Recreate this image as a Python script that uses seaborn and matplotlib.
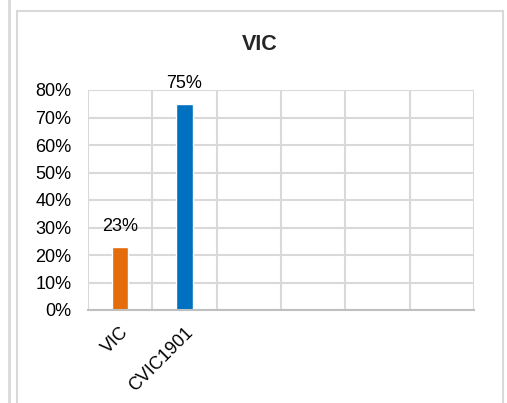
import numpy as np
import seaborn as sns
import pandas as pd
from matplotlib import pyplot as plt
from matplotlib.lines import Line2D

categories = ["VIC", "CVIC1901"]
shares = [0.23, 0.75]
bar_colors = ["#E46C0A", "#0070C0"]
y_ticks = [0, 0.1, 0.2, 0.3, 0.4, 0.5, 0.6, 0.7, 0.8]
n_slots = 6
title = "VIC"

sns.set_theme(style="white")
plt.rcParams['font.family'] = ['Liberation Sans', 'DejaVu Sans']

df = pd.DataFrame({"cat": categories, "share": shares})

fig = plt.figure(figsize=(5.07, 4.03), dpi=100)
ax = fig.add_axes([88/507, 1-310/403, (474-88)/507, 220/403])

sns.barplot(data=df, x="cat", y="share", hue="cat", palette=bar_colors,
            width=0.25, legend=False, ax=ax, saturation=1)

ax.set_xlim(-0.5, n_slots - 0.5)
ax.set_ylim(0, 0.8)
ax.set_yticks(y_ticks)
ax.set_yticklabels([f"{int(round(t*100))}%" for t in y_ticks], fontsize=13, color="black")
ax.set_xticks(range(len(categories)))
ax.set_xticklabels(categories, fontsize=13, rotation=45, ha="right",
                   rotation_mode="anchor", color="black")
ax.tick_params(axis="y", length=0, pad=12)
ax.tick_params(axis="x", length=0, pad=10)
ax.set_xlabel("")
ax.set_ylabel("")

# category boundary gridlines like excel
ax.set_xticks(np.arange(-0.5, n_slots, 1), minor=True)
ax.tick_params(axis="x", which="minor", length=0)
ax.grid(True, axis="y", color="#d9d9d9", linewidth=1.5)
ax.grid(True, axis="x", which="minor", color="#d9d9d9", linewidth=1.5)
ax.grid(False, axis="x", which="major")
ax.set_axisbelow(True)
for s in ["top", "right", "left"]:
    ax.spines[s].set_visible(False)
ax.spines["bottom"].set_color("#bfbfbf")
ax.spines["bottom"].set_linewidth(1.5)

for i, v in enumerate(shares):
    ax.annotate(f"{int(round(v*100))}%", (i, v), xytext=(0, 11), textcoords="offset points",
                ha="center", va="baseline", fontsize=13, color="black")

fig.text(260/507, 1-45/403, title, ha="center", va="center", fontsize=15.5, fontweight="bold")

# chart frame and neighbouring chart edge
frame = "#d9d9d9"
fig.add_artist(Line2D([17/507, 17/507], [0, 1-11/403], color=frame, lw=1.5))
fig.add_artist(Line2D([503/507, 503/507], [0, 1-11/403], color=frame, lw=1.5))
fig.add_artist(Line2D([17/507, 503/507], [1-11/403, 1-11/403], color=frame, lw=1.5))
fig.add_artist(Line2D([9/507, 9/507], [0, 1], color=frame, lw=2))

fig.savefig("out.png", dpi=100)
